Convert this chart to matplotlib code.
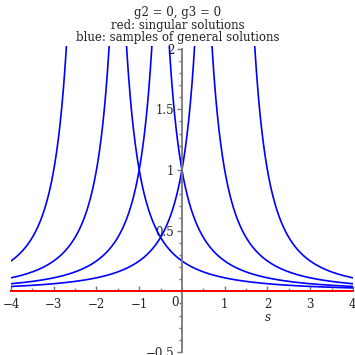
"""Weierstrass p with g2 = g3 = 0: singular and general solutions."""
import numpy as np
import matplotlib
matplotlib.use("Agg")
import matplotlib.pyplot as plt
from matplotlib.ticker import MultipleLocator

# shifts c of the general solutions y = 1/(s - c)^2, read from the asymptotes
shifts = [-2, -1, 0, 1]
singular = 0.0
title = "g2 = 0, g3 = 0\nred: singular solutions\nblue: samples of general solutions"
xticks = [-4, -3, -2, -1, 1, 2, 3, 4]
yticks = [-0.5, 0.5, 1, 1.5, 2]

plt.rcParams['font.family'] = ['DejaVu Serif']
plt.rcParams['mathtext.fontset'] = 'dejavuserif'

fig = plt.figure(figsize=(3.55, 3.55), dpi=100)
ax = fig.add_axes([0.031, 0.0085, 0.963, 0.8615])

s = np.linspace(-4, 4, 4001)
for c in shifts:
    with np.errstate(divide='ignore'):
        y = 1.0 / (s - c) ** 2
    y[np.abs(s - c) < 0.3] = np.nan
    ax.plot(s, y, color='blue', lw=1.2, clip_on=True)

ax.plot([-4, 4], [singular, singular], color='red', lw=1.4, zorder=3,
        clip_on=False)

ax.set_xlim(-4, 4)
ax.set_ylim(-0.5, 2.02)

for side in ('top', 'right'):
    ax.spines[side].set_visible(False)
ax.spines['left'].set_position(('data', 0))
ax.spines['bottom'].set_position(('data', 0))
for side in ('left', 'bottom'):
    ax.spines[side].set_color('#777777')
    ax.spines[side].set_linewidth(1.3)
ax.spines['left'].set_bounds(-0.5, 2.0)

ax.set_xticks(xticks)
ax.set_yticks(yticks)
ax.set_xticklabels(["\u2212%d" % -t if t < 0 else "%d" % t for t in xticks])
ax.set_yticklabels(["\u22120.5", "0.5", "1", "1.5", "2"])
ax.xaxis.set_minor_locator(MultipleLocator(0.5))
ax.yaxis.set_minor_locator(MultipleLocator(0.1))
ax.tick_params(axis='x', which='both', direction='in', colors='#777777',
               labelcolor='#222222', labelsize=8.5, pad=5)
ax.tick_params(axis='x', which='major', length=3.5, width=1)
ax.tick_params(axis='x', which='minor', length=2, width=1)
ax.tick_params(axis='y', which='both', direction='out', colors='#777777',
               labelcolor='#222222', labelsize=8.5, pad=2)
ax.tick_params(axis='y', which='major', length=3.5, width=1)
ax.tick_params(axis='y', which='minor', length=2, width=1)

ax.text(-0.08, -0.035, "0", ha='right', va='top', fontsize=8.5,
        color='#222222')
ax.text(2.0, -0.165, "$s$", ha='center', va='top', fontsize=8.5,
        color='#222222')

fig.text(0.5, 0.876, title, ha='center', va='bottom', fontsize=8.5,
         linespacing=0.95, color='#222222')

fig.savefig("out.png", dpi=100)
